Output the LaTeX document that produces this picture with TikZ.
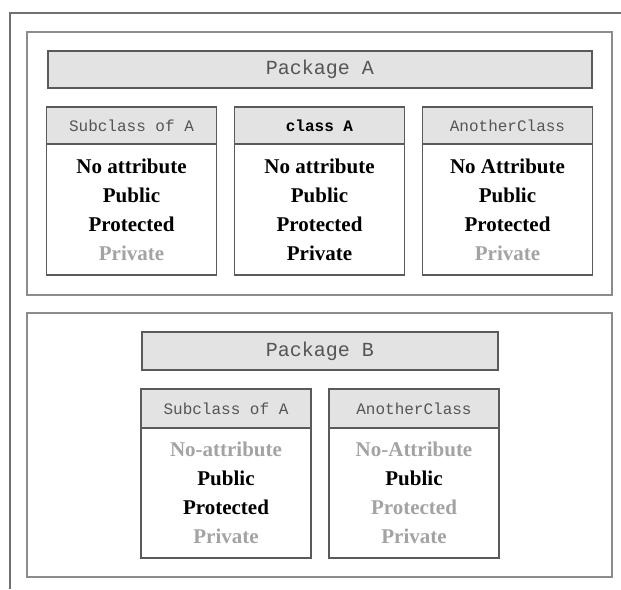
\documentclass[tikz,border=0pt]{standalone}
\usepackage{fontspec}
\setmainfont{Liberation Serif}
\newfontfamily\monofont{Liberation Mono}
\definecolor{framegray}{HTML}{707070}
\definecolor{pkggray}{HTML}{8C8C8C}
\definecolor{boxgray}{HTML}{5A5A5A}
\definecolor{hdrfill}{HTML}{E3E3E3}
\definecolor{hdrtext}{HTML}{555555}
\definecolor{offgray}{HTML}{A3A3A3}
\tikzset{
	pkgbox/.style={draw=pkggray,line width=2pt,minimum width=585pt,inner sep=0pt},
	pkghdr/.style={draw=boxgray,fill=hdrfill,line width=1.5pt,inner sep=0pt,text=hdrtext,font=\monofont\fontsize{20}{24}\selectfont},
	clshdr/.style={draw=boxgray,fill=hdrfill,line width=1.5pt,inner sep=0pt,minimum width=170pt,text=hdrtext,font=\monofont\fontsize{16}{20}\selectfont},
	clsbody/.style={draw=boxgray,line width=1.5pt,inner sep=0pt,minimum width=170pt,align=center,font=\fontsize{21}{29}\selectfont\bfseries},
}
\begin{document}
\begin{tikzpicture}[x=1pt,y=-1pt]
		\useasboundingbox (0,0) rectangle (621,589);
		\draw[framegray,line width=2pt] (10,589) -- (10,13) -- (621,13);
		\node[pkgbox,minimum height=263pt] (pkgA) at (319.5,163.5) {};
		\node[pkghdr,minimum width=544pt,minimum height=37pt] (hdrA) at (320,69.5) {Package A};
		\node[clshdr,minimum height=37pt] (subAhdr) at (131.5,125.5) {Subclass of A};
		\node[clsbody,minimum height=131pt] (subAbody) at (131.5,209.5) {No attribute\\Public\\Protected\\\textcolor{offgray}{Private}};
		\node[clshdr,minimum height=37pt,text=black,font=\monofont\fontsize{16}{20}\selectfont\bfseries] (classAhdr) at (319.5,125.5) {class A};
		\node[clsbody,minimum height=131pt] (classAbody) at (319.5,209.5) {No attribute\\Public\\Protected\\Private};
		\node[clshdr,minimum height=37pt] (otherAhdr) at (507.5,125.5) {AnotherClass};
		\node[clsbody,minimum height=131pt] (otherAbody) at (507.5,209.5) {No Attribute\\Public\\Protected\\\textcolor{offgray}{Private}};
		\node[pkgbox,minimum height=264pt] (pkgB) at (319.5,445) {};
		\node[pkghdr,minimum width=356pt,minimum height=38pt] (hdrB) at (320,351) {Package B};
		\node[clshdr,minimum height=39pt] (subBhdr) at (226,408.5) {Subclass of A};
		\node[clsbody,minimum height=130pt] (subBbody) at (226,493) {\textcolor{offgray}{No-attribute}\\Public\\Protected\\\textcolor{offgray}{Private}};
		\node[clshdr,minimum height=39pt] (otherBhdr) at (414,408.5) {AnotherClass};
		\node[clsbody,minimum height=130pt] (otherBbody) at (414,493) {\textcolor{offgray}{No-Attribute}\\Public\\\textcolor{offgray}{Protected}\\\textcolor{offgray}{Private}};
		\end{tikzpicture}
\end{document}
